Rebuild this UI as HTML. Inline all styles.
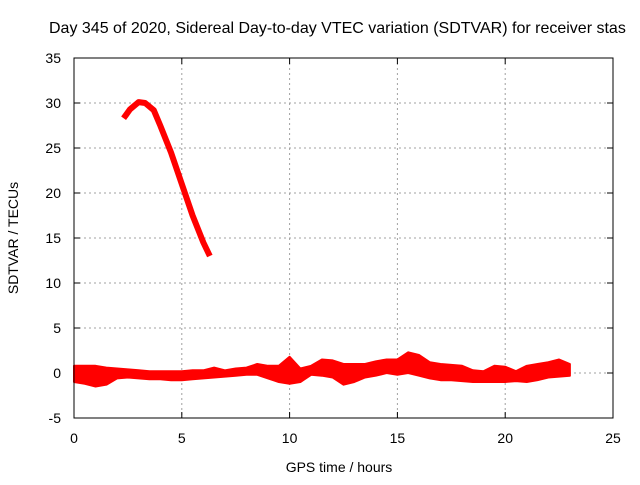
<!DOCTYPE html>
<html><head><meta charset="utf-8"><style>
body{margin:0;background:#fff;width:640px;height:480px;overflow:hidden}
text{font-family:"Liberation Sans",sans-serif;font-size:14px;fill:#000}
</style></head><body>
<svg id="chart" width="640" height="480" xmlns="http://www.w3.org/2000/svg">
<text x="49" y="33" style="font-size:16px">Day 345 of 2020, Sidereal Day-to-day VTEC variation (SDTVAR) for receiver stas</text>
<g id="grid"></g>
<g id="ticks"></g>
<g id="series"></g>
<rect x="74" y="58" width="539" height="360" fill="none" stroke="#000" stroke-width="1"/>
<text x="339" y="472" text-anchor="middle">GPS time / hours</text>
<text transform="translate(18,238) rotate(-90)" text-anchor="middle">SDTVAR / TECUs</text>
</svg>
<script>
const xTicks=[0,5,10,15,20,25];
const yTicks=[-5,0,5,10,15,20,25,30,35];
const bandHours=[0,0.5,1,1.5,2,2.5,3,3.5,4,4.5,5,5.5,6,6.5,7,7.5,8,8.5,9,9.5,10,10.5,11,11.5,12,12.5,13,13.5,14,14.5,15,15.5,16,16.5,17,17.5,18,18.5,19,19.5,20,20.5,21,21.5,22,22.5,23];
const bandTop=[0.8,0.8,0.8,0.6,0.5,0.4,0.3,0.2,0.2,0.2,0.2,0.3,0.3,0.6,0.3,0.5,0.6,1.0,0.8,0.8,1.8,0.5,0.8,1.5,1.4,1.0,1.0,1.0,1.3,1.5,1.5,2.3,2.0,1.2,1.0,0.9,0.8,0.3,0.2,0.8,0.7,0.2,0.8,1.0,1.2,1.5,1.0];
const bandBottom=[-1.0,-1.2,-1.5,-1.3,-0.6,-0.5,-0.6,-0.7,-0.7,-0.8,-0.8,-0.7,-0.6,-0.5,-0.4,-0.3,-0.2,-0.2,-0.6,-1.0,-1.2,-1.0,-0.2,-0.3,-0.5,-1.3,-1.0,-0.5,-0.3,0.0,-0.2,0.0,-0.3,-0.6,-0.8,-0.8,-0.9,-1.0,-1.0,-1.0,-1.0,-0.9,-1.0,-0.8,-0.5,-0.4,-0.3];
const arcHours=[2.3,2.6,3.0,3.3,3.7,4.0,4.5,5.0,5.5,6.0,6.3];
const arcValues=[28.3,29.3,30.1,30.0,29.2,27.5,24.5,21.0,17.5,14.5,13.0];

const X0=74,X1=613,Y0=418,Y1=58;
const xs=v=>X0+(v-0)/(25-0)*(X1-X0);
const ys=v=>Y0-(v+5)/(35+5)*(Y0-Y1);
const NS="http://www.w3.org/2000/svg";
function mk(t,a,p){const e=document.createElementNS(NS,t);for(const k in a)e.setAttribute(k,a[k]);p.appendChild(e);return e;}
const grid=document.getElementById('grid'),ticks=document.getElementById('ticks'),ser=document.getElementById('series');
xTicks.forEach(t=>{
  const x=xs(t);
  if(t>0&&t<25){const l=mk('line',{x1:x,x2:x,y1:Y1,y2:Y0,stroke:'#a0a0a0','stroke-dasharray':'2,3'},grid);
  
  }
  mk('line',{x1:x,x2:x,y1:Y0,y2:Y0-6,stroke:'#000'},ticks);
  mk('line',{x1:x,x2:x,y1:Y1,y2:Y1+6,stroke:'#000'},ticks);
  const tx=mk('text',{x:x,y:Y0+25,'text-anchor':'middle'},ticks);tx.textContent=t;
  
  
});
yTicks.forEach(t=>{
  const y=ys(t);
  if(t>-5&&t<35){const l=mk('line',{x1:X0,x2:X1,y1:y,y2:y,stroke:'#a0a0a0','stroke-dasharray':'2,3'},grid);
  
  }
  mk('line',{x1:X0,x2:X0+6,y1:y,y2:y,stroke:'#000'},ticks);
  mk('line',{x1:X1,x2:X1-6,y1:y,y2:y,stroke:'#000'},ticks);
  const tx=mk('text',{x:X0-13,y:y+5,'text-anchor':'end'},ticks);tx.textContent=t;
  
  
});
let pts=bandHours.map((h,i)=>xs(h)+','+ys(bandTop[i]));
pts=pts.concat(bandHours.map((h,i)=>xs(h)+','+ys(bandBottom[i])).reverse());
const band=mk('polygon',{points:pts.join(' '),fill:'#ff0000',stroke:'#ff0000','stroke-width':2,'stroke-linejoin':'round'},ser);


const arc=mk('polyline',{points:arcHours.map((h,i)=>xs(h)+','+ys(arcValues[i])).join(' '),fill:'none',stroke:'#ff0000','stroke-width':6,'stroke-linejoin':'round'},ser);


</script>
</body></html>
